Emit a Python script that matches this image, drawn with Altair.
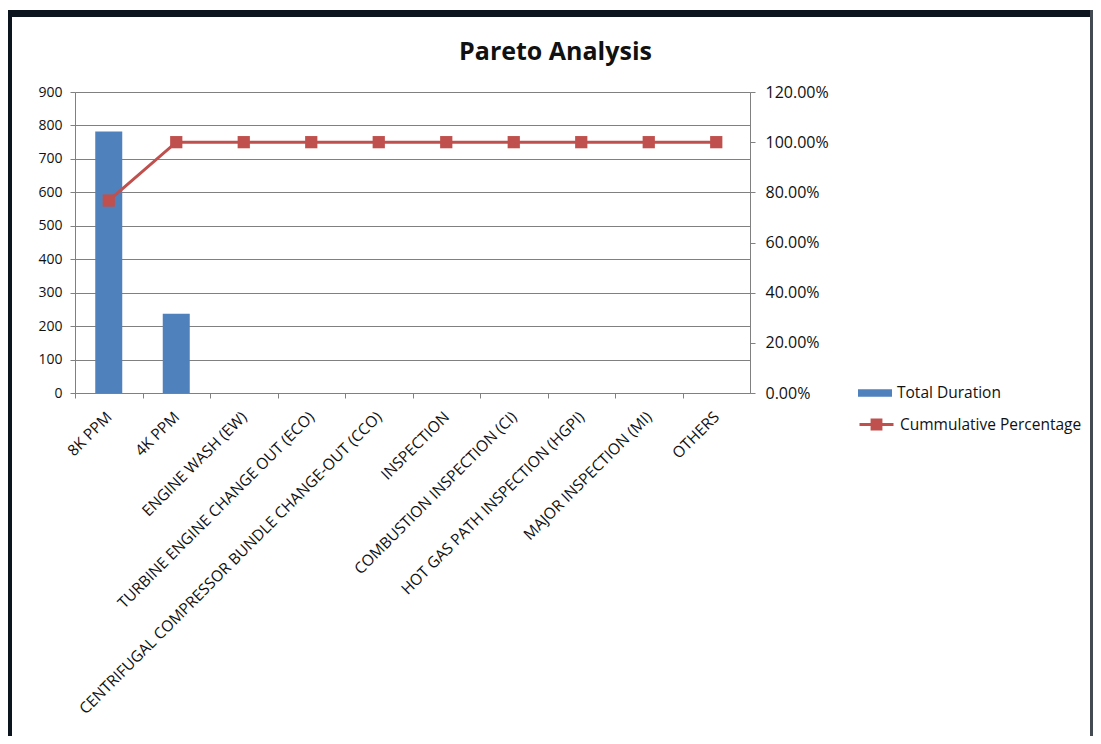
import altair as alt
import pandas as pd

categories = ["8K PPM", "4K PPM", "ENGINE WASH (EW)", "TURBINE ENGINE CHANGE OUT (ECO)",
              "CENTRIFUGAL COMPRESSOR BUNDLE CHANGE-OUT (CCO)", "INSPECTION",
              "COMBUSTION INSPECTION (CI)", "HOT GAS PATH INSPECTION (HGPI)",
              "MAJOR INSPECTION (MI)", "OTHERS"]
total_duration = [782, 237, 0, 0, 0, 0, 0, 0, 0, 0]
cumulative_pct = [0.7674, 1.0, 1.0, 1.0, 1.0, 1.0, 1.0, 1.0, 1.0, 1.0]

df = pd.DataFrame({
    "category": categories,
    "duration": total_duration,
    "cum": cumulative_pct,
    "s1": "Total Duration",
    "s2": "Cummulative Percentage",
})

FONT = "Open Sans"
GRAY = "#808080"
BLUE = "#4F81BD"
RED = "#C0504D"
TXT = "#111111"

xenc = alt.X("category:N", sort=categories, title=None,
             scale=alt.Scale(paddingInner=0.6, paddingOuter=0.3),
             axis=alt.Axis(labelAngle=-45, labelAlign="right", labelBaseline="middle",
                           labelFontSize=15.5, labelFont=FONT, labelColor=TXT,
                           domainColor=GRAY, tickColor=GRAY, tickSize=5, labelPadding=16,
                           tickOffset=-33.75, labelOffset=33.75, grid=False, labelLimit=700))

bars = alt.Chart(df).mark_bar(color=BLUE).encode(
    x=xenc,
    y=alt.Y("duration:Q", title=None,
            scale=alt.Scale(domain=[0, 900], nice=False),
            axis=alt.Axis(values=list(range(0, 901, 100)), grid=True, gridColor=GRAY,
                          domainColor=GRAY, tickColor=GRAY, tickSize=5, labelPadding=8,
                          labelFontSize=14, labelFont=FONT, labelColor=TXT)),
    fill=alt.Fill("s1:N", scale=alt.Scale(domain=["Total Duration"], range=[BLUE]),
                  legend=alt.Legend(title=None, orient="none", legendX=783, legendY=284,
                                    symbolType="M-1,-0.22H1V0.22H-1Z", symbolSize=1156,
                                    symbolStrokeWidth=0, labelFontSize=15.5, labelFont=FONT,
                                    labelColor=TXT, labelOffset=5, labelLimit=400)),
)

yr = alt.Y("cum:Q", title=None,
           scale=alt.Scale(domain=[0, 1.2], nice=False),
           axis=alt.Axis(orient="right", values=[0, 0.2, 0.4, 0.6, 0.8, 1.0, 1.2], format=".2%",
                         grid=False, domainColor=GRAY, tickColor=GRAY, tickSize=5,
                         labelPadding=10, labelFontSize=16, labelFont=FONT, labelColor=TXT))

line = alt.Chart(df).mark_line(strokeWidth=3, color=RED).encode(
    x=alt.X("category:N", sort=categories),
    y=yr,
    stroke=alt.Stroke("s2:N", scale=alt.Scale(domain=["Cummulative Percentage"], range=[RED]),
                      legend=alt.Legend(title=None, orient="none", legendX=783, legendY=314,
                                        symbolType="M-1,0H1M-0.26,-0.26H0.26V0.26H-0.26Z",
                                        symbolSize=1156, symbolStrokeWidth=3,
                                        symbolFillColor=RED, labelFontSize=15.5, labelFont=FONT,
                                        labelColor=TXT, labelOffset=5, labelLimit=400)),
)

pts = alt.Chart(df).mark_point(shape="square", filled=True, size=150, color=RED, opacity=1).encode(
    x=alt.X("category:N", sort=categories),
    y=yr,
)

frame_top = alt.Chart(df).mark_rect(color="#0c151e", clip=False).encode(
    x=alt.value(-75), x2=alt.value(1030), y=alt.value(-82), y2=alt.value(-75))
frame_left = alt.Chart(df).mark_rect(color="#0c151e", clip=False).encode(
    x=alt.value(-67), x2=alt.value(-63), y=alt.value(-82), y2=alt.value(650))
frame_right = alt.Chart(df).mark_rect(color="#444a52", clip=False).encode(
    x=alt.value(1015), x2=alt.value(1018), y=alt.value(-82), y2=alt.value(650))

right_layer = alt.layer(line, pts)

chart = alt.layer(bars, right_layer, frame_top, frame_left, frame_right).resolve_scale(
    y="independent", fill="independent", stroke="independent"
).properties(
    width=675, height=301,
    title=alt.TitleParams("Pareto Analysis", fontSize=25, font=FONT, fontWeight="bold",
                          color=TXT, anchor="middle", dx=143, offset=0, dy=55),
    autosize=alt.AutoSizeParams(type="none"),
    padding={"left": 67, "top": 84, "right": 343, "bottom": 343},
).configure_view(stroke=None).configure(background="white")

chart.save("out.html", embed_options={"renderer": "svg", "actions": False})
